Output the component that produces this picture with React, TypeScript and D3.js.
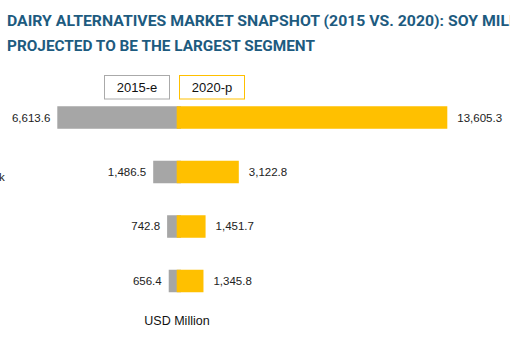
import React from "react";
import * as d3 from "d3";

const categories = ["Soy Milk", "Almond Milk", "Rice Milk", "Others"];
const values2015 = [6613.6, 1486.5, 742.8, 656.4];
const values2020 = [13605.3, 3122.8, 1451.7, 1345.8];
const seriesNames = ["2015-e", "2020-p"];
const titleLines = [
  "DAIRY ALTERNATIVES MARKET SNAPSHOT (2015 VS. 2020): SOY MILK",
  "PROJECTED TO BE THE LARGEST SEGMENT",
];
const unitLabel = "USD Million";

const W = 510;
const H = 354;
const GREY = "#a6a6a6";
const YELLOW = "#ffc000";
const TITLE = "#1d5b7f";
const fmt = d3.format(",.1f");

export default function App() {
  const center = 176.7;
  const left = d3.scaleLinear().domain([0, 6613.6]).range([181, 57.3]);
  const right = d3.scaleLinear().domain([0, 13605.3]).range([center, 447.3]);
  const y = d3
    .scaleBand<string>()
    .domain(categories)
    .range([106.25, 292.25])
    .paddingInner(0.587)
    .paddingOuter(0);
  const bh = y.bandwidth();

  return (
    <svg
      width={W}
      height={H}
      style={{ position: "absolute", left: 0, top: 0, background: "#fff" }}
      fontFamily="'Liberation Sans', Arial, sans-serif"
    >
      <text
        x={7}
        y={26}
        fontFamily="Roboto, sans-serif"
        fontWeight="bold"
        fontSize={15.5}
        fill={TITLE}
        textLength={512}
        lengthAdjust="spacingAndGlyphs"
      >
        {titleLines[0]}
      </text>
      <text
        x={7}
        y={51}
        fontFamily="Roboto, sans-serif"
        fontWeight="bold"
        fontSize={15.5}
        fill={TITLE}
        textLength={308}
        lengthAdjust="spacingAndGlyphs"
      >
        {titleLines[1]}
      </text>

      {/* legend */}
      <rect x={104.5} y={75.5} width={65} height={23.5} fill="#fff" stroke="#aaa" strokeWidth={1} />
      <text x={137} y={92} textAnchor="middle" fontSize={13} fill="#111">
        {seriesNames[0]}
      </text>
      <rect x={179.5} y={75.5} width={65} height={23.5} fill="#fff" stroke={YELLOW} strokeWidth={1} />
      <text x={212} y={92} textAnchor="middle" fontSize={13} fill="#111">
        {seriesNames[1]}
      </text>

      {categories.map((c, i) => {
        const y0 = y(c)!;
        const cy = y0 + bh / 2;
        return (
          <g key={c}>
            <text x={-58} y={cy + 9} fontSize={11.5} fill="#222">
              {c}
            </text>
            <rect x={left(values2015[i])} y={y0} width={left(0) - left(values2015[i])} height={bh} fill={GREY} />
            <rect x={center} y={y0} width={right(values2020[i]) - center} height={bh} fill={YELLOW} />
            <text x={left(values2015[i]) - 7} y={cy + 4} textAnchor="end" fontSize={11.5} fill="#222">
              {fmt(values2015[i])}
            </text>
            <text x={right(values2020[i]) + 10} y={cy + 4} fontSize={11.5} fill="#222">
              {fmt(values2020[i])}
            </text>
          </g>
        );
      })}

      <text x={177} y={325} textAnchor="middle" fontSize={12.5} fill="#111">
        {unitLabel}
      </text>
    </svg>
  );
}
